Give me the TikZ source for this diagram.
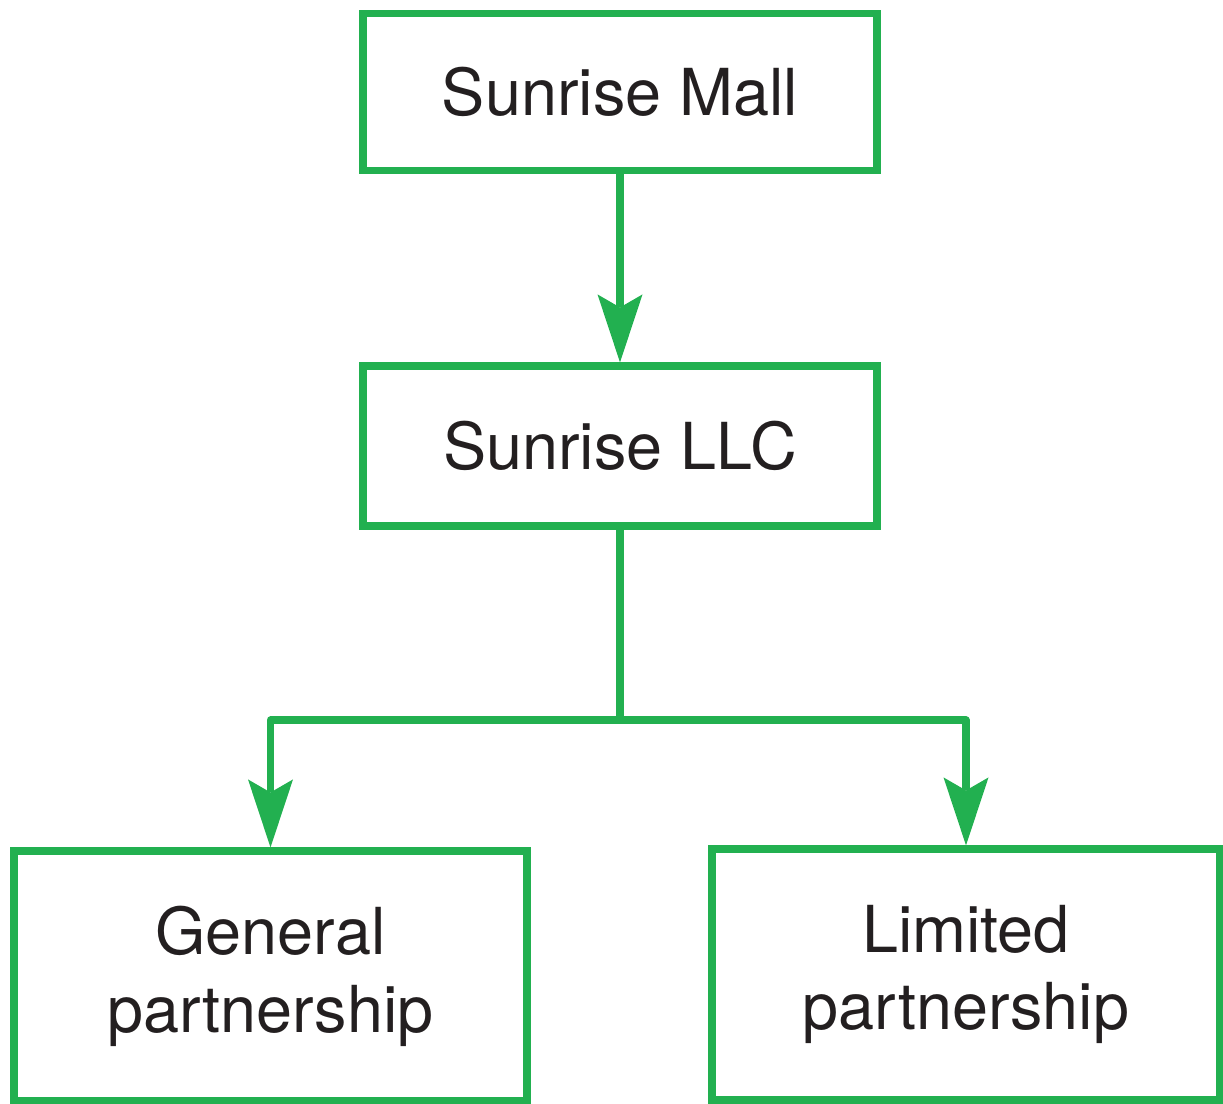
\documentclass[tikz,border=0pt]{standalone}
\usepackage{fontspec}
\setmainfont{TeX Gyre Heros}
\usetikzlibrary{arrows.meta,positioning}
\definecolor{boxgreen}{RGB}{34,176,80}
\definecolor{inkgray}{RGB}{35,31,32}
\tikzset{
  entity/.style={draw=boxgreen, line width=3.6bp, inner sep=0pt, align=center,
    text=inkgray, font=\fontsize{32.5}{39}\selectfont},
  link/.style={draw=boxgreen, line width=3.6bp, line join=round},
  owns/.style={link, -{Stealth[length=34bp,width=22.5bp,inset=6.5bp,line width=0pt]}}
}
\begin{document}
\begin{tikzpicture}[x=0.5bp,y=-0.5bp]
\useasboundingbox (0,0) rectangle (1223,1103);
% ownership chain
\node[entity, minimum width=257bp, minimum height=78.5bp] (mall) at (620,91.75) {Sunrise Mall};
\node[entity, minimum width=257bp, minimum height=80bp] (llc) at (620,446) {Sunrise LLC};
\node[entity, minimum width=256.5bp, minimum height=125bp] (gp) at (270.5,976) {General\\partnership};
\node[entity, minimum width=254bp, minimum height=125.5bp] (lp) at (966,974.5) {Limited\\partnership};
\coordinate (split) at (620,720);
\draw[owns] (mall) -- (llc);
\draw[link] (llc) -- (split);
\draw[owns] (split) -| (gp);
\draw[owns] (split) -| (lp);
\end{tikzpicture}
\end{document}
